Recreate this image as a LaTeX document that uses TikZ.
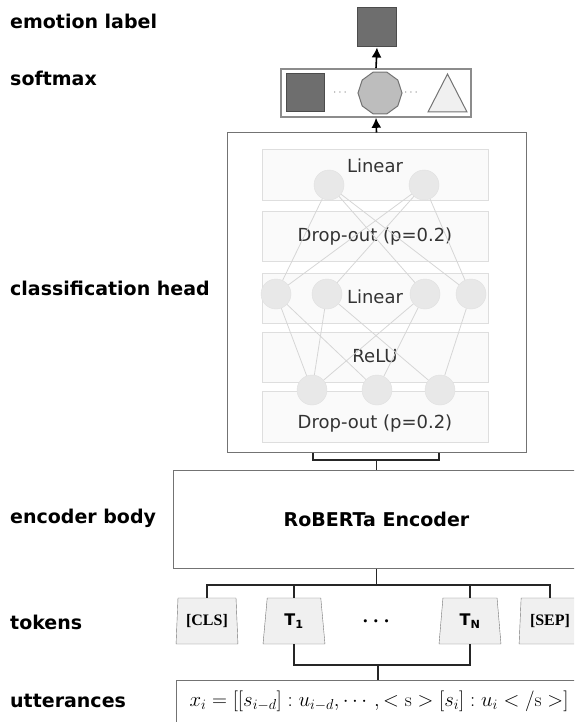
\documentclass[tikz,border=0pt]{standalone}
\usepackage{fontspec}
\usepackage{amsmath}
\usetikzlibrary{arrows.meta,positioning,calc,shapes.geometric,backgrounds}
\newfontfamily\vfont{DejaVu Sans}
\newfontfamily\sfont{Liberation Serif}
\newcommand{\tagfont}{\vfont\bfseries\fontsize{19}{22}\selectfont}
\newcommand{\layfont}{\vfont\fontsize{18}{21}\selectfont\color{black!80}}

\tikzset{
  tag/.style={font=\tagfont, anchor=base west, inner sep=0pt},
  layer/.style={draw=black!13, fill=black!2, line width=0.8pt, minimum width=226pt},
  laytext/.style={font=\layfont, anchor=base, inner sep=0pt},
  neuron/.style={circle, draw=black!12, fill=black!9, minimum size=30pt, inner sep=0pt},
  syn/.style={draw=black!16, line width=0.8pt},
  frame/.style={draw=black!55, line width=1pt},
  wire/.style={draw=black!85, line width=1.4pt},
  token/.style={trapezium, trapezium angle=84, trapezium stretches=true, draw=black!55,
    fill=black!6, minimum width=62pt, minimum height=46pt, inner sep=0pt},
  special/.style={font=\sfont\bfseries\fontsize{16}{16}\selectfont},
  plain/.style={font=\vfont\bfseries\fontsize{16}{16}\selectfont},
  up/.style={->, line width=1.6pt}
}

\begin{document}
\begin{tikzpicture}[x=1pt,y=-1pt,>={Latex[length=10pt,width=10pt]}]
  \clip (0,0) rectangle (574,722);

  % row labels on the left
  \node[tag] (tlab) at (10,29) {emotion label};
  \node[tag] (tsoft) at (10,86) {softmax};
  \node[tag] (thead) at (10,295) {classification head};
  \node[tag] (tbody) at (10,523) {encoder body};
  \node[tag] (ttok) at (10,629) {tokens};
  \node[tag] (tutt) at (10,707) {utterances};

  % output
  \node[draw=black!70, fill=black!57, line width=1pt, minimum size=39pt, inner sep=0pt] (lab) at (377,27.5) {};
  \node[draw=black!45, line width=1.6pt, minimum width=190pt, minimum height=48pt] (soft) at (376,93) {};
  \node[draw=black!70, fill=black!57, line width=1pt, minimum size=38pt, inner sep=0pt] (sq) at (305.5,93) {};
  \node[font=\fontsize{12}{12}\selectfont, text=black!50] (dl) at (341,93) {$\cdots$};
  \node[regular polygon, regular polygon sides=10, draw=black!55, fill=black!26, line width=1pt,
    minimum size=44pt, inner sep=0pt] (dec) at (380,93) {};
  \node[font=\fontsize{12}{12}\selectfont, text=black!50] (dr) at (412,93) {$\cdots$};
  \draw[draw=black!55, fill=black!6, line width=1pt] (428,112) -- (467,112) -- (447.5,74) -- cycle;
  \draw[up] (soft.north) -- (lab.south);

  % classification head
  \node[frame, minimum width=299pt, minimum height=319pt] (head) at (376.5,292.5) {};
  \draw[up] (head.north) -- (soft.south);
  \begin{scope}[on background layer]
    \node[layer, minimum height=51pt] (lin1) at (375,174.5) {};
    \node[layer, minimum height=50pt] (drop1) at (375,236) {};
    \node[layer, minimum height=50pt] (lin2) at (375,298) {};
    \node[layer, minimum height=50pt] (relu) at (375,357) {};
    \node[layer, minimum height=51pt] (drop2) at (375,416.5) {};
    \node[laytext] at (375,173) {Linear};
    \node[laytext] at (375,241) {Drop-out (p=0.2)};
    \node[laytext] at (375,303) {Linear};
    \node[laytext] at (375,362) {ReLU};
    \node[laytext] at (375,428) {Drop-out (p=0.2)};
  \end{scope}
  \foreach \nm/\x/\y in {n11/329/185, n12/424/185,
      n21/276/294, n22/327/294, n23/425/294, n24/471/294,
      n31/312/390, n32/377/390, n33/440/390}
    \node[neuron] (\nm) at (\x,\y) {};
  \begin{scope}[on background layer]
    \foreach \a/\b in {n11/n21, n11/n23, n11/n24, n12/n21, n12/n22, n12/n24,
        n21/n31, n21/n32, n22/n31, n22/n33, n23/n31, n23/n32, n24/n33}
      \draw[syn] (\a) -- (\b);
  \end{scope}

  % encoder
  \node[frame, minimum width=407pt, minimum height=98pt, font=\tagfont] (enc) at (376.5,519) {RoBERTa Encoder};
  \coordinate (hl) at (313,460);
  \coordinate (hr) at (439,460);
  \coordinate (hjoin) at (376.5,460);
  \draw[wire] (hl |- head.south) -- (hl) -- (hr) -- (hr |- head.south);
  \draw[wire] (hjoin) -- (enc.north);

  % tokens
  \node[token, special] (cls) at (207,621) {[CLS]};
  \node[token, plain] (t1) at (294,621) {T\textsubscript{1}};
  \node[font=\fontsize{20}{20}\selectfont] (dots) at (378,622) {$\boldsymbol{\cdots}$};
  \node[token, plain] (tn) at (470,621) {T\textsubscript{N}};
  \node[token, special] (sep) at (550,621) {[SEP]};
  \coordinate (bus) at (376.5,585);
  \draw[wire] (enc.south) -- (bus);
  \draw[wire] (cls.north) |- (bus) -| (sep.north);
  \draw[wire] (t1.north) -- (t1.north |- bus);
  \draw[wire] (tn.north) -- (tn.north |- bus);

  % utterances
  \node[frame, minimum width=404pt, minimum height=60pt] (utt) at (378,710) {};
  \node[font=\fontsize{19.5}{22}\selectfont] (form) at (379,701)
    {$x_i=[[s_{i-d}]:u_{i-d},\cdots,<\mathrm{s}>[s_i]:u_i</\mathrm{s}>]$};
  \coordinate (ujoin) at (378,665);
  \draw[wire] (t1.south) |- (ujoin) -| (tn.south);
  \draw[wire] (ujoin) -- (utt.north);
\end{tikzpicture}
\end{document}
